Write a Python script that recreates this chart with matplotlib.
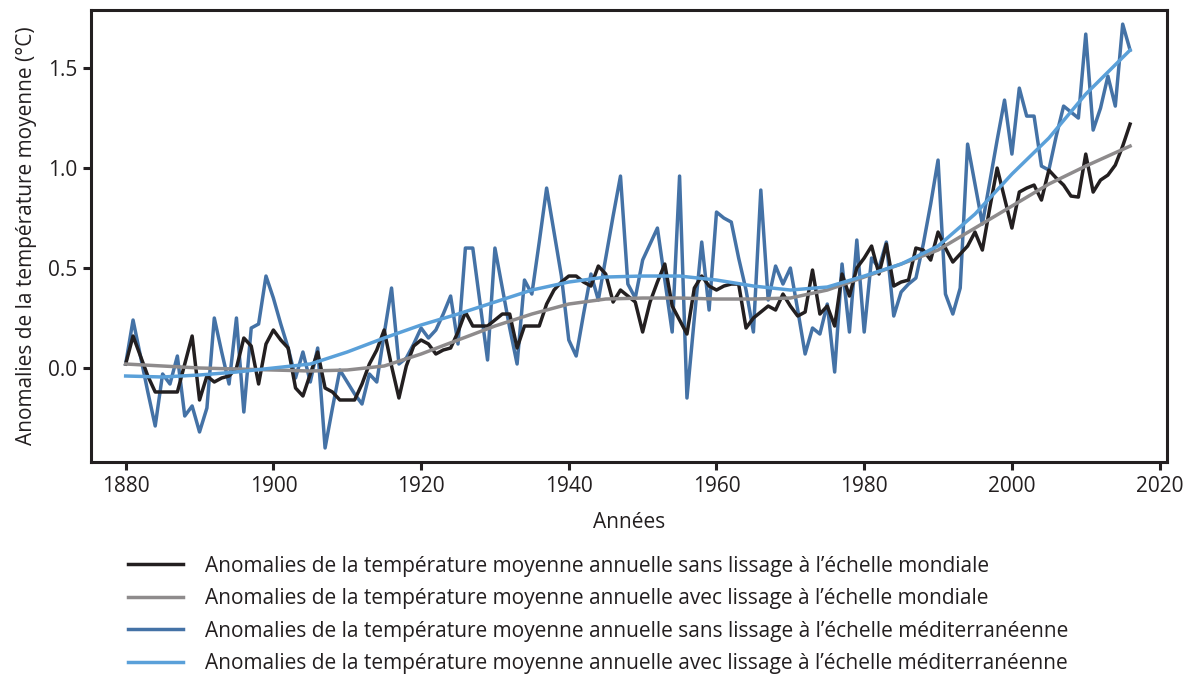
import matplotlib
matplotlib.use("Agg")
import matplotlib.pyplot as plt
from matplotlib.ticker import FormatStrFormatter

plt.rcParams['font.family'] = ['Open Sans', 'DejaVu Sans']

# annees 1880-2016
years = list(range(1880, 2017))

# anomalies mondiales sans lissage
glob_raw = [
    0.02, 0.16, 0.06, -0.04, -0.12, -0.12, -0.12, -0.12, 0.02, 0.16,   # 1880
    -0.16, -0.04, -0.07, -0.05, -0.04, 0.00, 0.15, 0.11, -0.08, 0.12,  # 1890
    0.19, 0.14, 0.10, -0.10, -0.14, -0.03, 0.08, -0.10, -0.12, -0.16,  # 1900
    -0.16, -0.16, -0.08, 0.02, 0.09, 0.19, 0.01, -0.15, 0.01, 0.11,    # 1910
    0.14, 0.12, 0.07, 0.09, 0.10, 0.18, 0.28, 0.21, 0.21, 0.21,        # 1920
    0.24, 0.27, 0.27, 0.10, 0.21, 0.21, 0.21, 0.32, 0.39, 0.43,        # 1930
    0.46, 0.46, 0.43, 0.41, 0.51, 0.47, 0.33, 0.39, 0.36, 0.33,        # 1940
    0.18, 0.33, 0.43, 0.52, 0.31, 0.24, 0.17, 0.40, 0.46, 0.41,        # 1950
    0.39, 0.41, 0.42, 0.42, 0.20, 0.25, 0.28, 0.31, 0.29, 0.37,        # 1960
    0.31, 0.26, 0.28, 0.49, 0.27, 0.31, 0.21, 0.47, 0.36, 0.50,        # 1970
    0.55, 0.61, 0.47, 0.62, 0.41, 0.43, 0.44, 0.60, 0.59, 0.54,        # 1980
    0.68, 0.60, 0.53, 0.57, 0.61, 0.68, 0.59, 0.80, 1.00, 0.85,        # 1990
    0.70, 0.88, 0.90, 0.915, 0.84, 0.99, 0.95, 0.915, 0.86, 0.855,     # 2000
    1.07, 0.88, 0.94, 0.965, 1.015, 1.11, 1.22,                        # 2010
]

# anomalies mediterraneennes sans lissage
med_raw = [
    0.02, 0.24, 0.06, -0.12, -0.29, -0.03, -0.08, 0.06, -0.24, -0.19,  # 1880
    -0.32, -0.20, 0.25, 0.08, -0.08, 0.25, -0.22, 0.20, 0.22, 0.46,    # 1890
    0.35, 0.22, 0.10, -0.05, 0.08, -0.07, 0.10, -0.40, -0.20, -0.01,   # 1900
    -0.07, -0.13, -0.18, -0.03, -0.07, 0.17, 0.40, 0.02, 0.05, 0.12,   # 1910
    0.20, 0.15, 0.19, 0.27, 0.36, 0.12, 0.60, 0.60, 0.32, 0.04,        # 1920
    0.60, 0.40, 0.20, 0.02, 0.44, 0.37, 0.63, 0.90, 0.68, 0.46,        # 1930
    0.14, 0.06, 0.27, 0.47, 0.34, 0.55, 0.76, 0.96, 0.42, 0.35,        # 1940
    0.54, 0.62, 0.70, 0.44, 0.18, 0.96, -0.15, 0.25, 0.63, 0.29,       # 1950
    0.78, 0.75, 0.73, 0.55, 0.39, 0.18, 0.89, 0.34, 0.51, 0.42,        # 1960
    0.50, 0.29, 0.07, 0.20, 0.17, 0.32, -0.02, 0.52, 0.18, 0.64,       # 1970
    0.18, 0.55, 0.50, 0.63, 0.26, 0.38, 0.42, 0.45, 0.62, 0.82,        # 1980
    1.04, 0.37, 0.27, 0.40, 1.12, 0.92, 0.72, 0.93, 1.14, 1.34,        # 1990
    1.07, 1.40, 1.26, 1.26, 1.01, 0.99, 1.16, 1.31, 1.28, 1.25,        # 2000
    1.67, 1.19, 1.30, 1.46, 1.31, 1.72, 1.59,                          # 2010
]

# courbes lissees, lues tous les 5 ans
smooth_years = [1880, 1885, 1890, 1895, 1900, 1905, 1910, 1915, 1920, 1925,
                1930, 1935, 1940, 1945, 1950, 1955, 1960, 1965, 1970, 1975,
                1980, 1985, 1990, 1995, 2000, 2005, 2010, 2016]
glob_smooth = [0.02, 0.01, 0.0, -0.005, -0.01, -0.015, -0.01, 0.01, 0.07, 0.14,
               0.21, 0.27, 0.32, 0.345, 0.35, 0.35, 0.345, 0.345, 0.35, 0.39,
               0.455, 0.52, 0.59, 0.70, 0.81, 0.92, 1.01, 1.11]
med_smooth = [-0.04, -0.045, -0.035, -0.02, 0.0, 0.02, 0.08, 0.15, 0.215, 0.27,
              0.33, 0.39, 0.43, 0.455, 0.46, 0.46, 0.44, 0.41, 0.39, 0.405,
              0.46, 0.52, 0.61, 0.77, 0.97, 1.15, 1.37, 1.59]

labels = [
    "Anomalies de la température moyenne annuelle sans lissage à l’échelle mondiale",
    "Anomalies de la température moyenne annuelle avec lissage à l’échelle mondiale",
    "Anomalies de la température moyenne annuelle sans lissage à l’échelle méditerranéenne",
    "Anomalies de la température moyenne annuelle avec lissage à l’échelle méditerranéenne",
]
c_black = '#231f20'
c_grey = '#8e8b8c'
c_blue = '#4472a6'
c_light = '#5aa0d9'
ink = '#231f20'
fs = 15

fig = plt.figure(figsize=(11.89, 6.75), dpi=100)
ax = fig.add_axes([0.0765, 0.3156, 0.905, 0.6694])

lw = 2.5
l_med, = ax.plot(years, med_raw, color=c_blue, lw=lw, zorder=2)
l_glob, = ax.plot(years, glob_raw, color=c_black, lw=lw, zorder=3)
l_gs, = ax.plot(smooth_years, glob_smooth, color=c_grey, lw=lw, zorder=4)
l_ms, = ax.plot(smooth_years, med_smooth, color=c_light, lw=lw, zorder=5)

ax.set_xlim(1875.3, 2021)
ax.set_ylim(-0.47, 1.79)
ax.set_xticks(range(1880, 2021, 20))
ax.set_yticks([0.0, 0.5, 1.0, 1.5])
ax.yaxis.set_major_formatter(FormatStrFormatter('%.1f'))

for s in ax.spines.values():
    s.set_linewidth(2.2)
    s.set_color(ink)
ax.tick_params(direction='out', length=6, width=2.2, color=ink,
               labelsize=fs, labelcolor=ink, pad=4)

ax.set_xlabel("Années", fontsize=fs, color=ink, labelpad=11)
ax.set_ylabel("Anomalies de la température moyenne (°C)", fontsize=fs,
              color=ink, labelpad=8)

fig.legend([l_glob, l_gs, l_med, l_ms], labels,
           loc='upper left', bbox_to_anchor=(0.1007, 0.189),
           frameon=False, fontsize=fs, handlelength=2.65, handletextpad=1.05,
           labelspacing=0.55, borderaxespad=0, labelcolor=ink)

fig.savefig("out.png", dpi=100)
